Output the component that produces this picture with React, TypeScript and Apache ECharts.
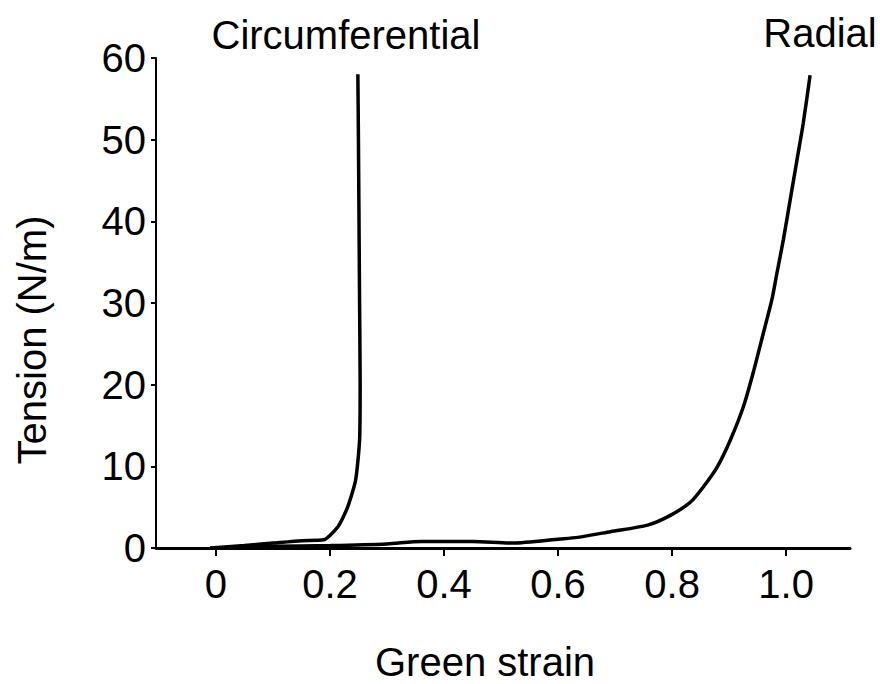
import React, { useEffect, useRef } from "react";
import * as echarts from "echarts";

const xTicks = [0, 0.2, 0.4, 0.6, 0.8, 1.0];

const circumferentialStrain = [-0.01, 0.05, 0.1, 0.15, 0.189, 0.214, 0.231, 0.245, 0.252, 0.253, 0.252, 0.251, 0.25, 0.249];
const circumferentialTension = [0, 0.3, 0.6, 0.9, 1.0, 2.6, 5.0, 8.3, 13.2, 20, 30, 40, 50, 58];

const radialStrain = [0, 0.1, 0.2, 0.3, 0.36, 0.45, 0.52, 0.604, 0.634, 0.692, 0.757, 0.797, 0.832, 0.855, 0.879, 0.902, 0.925, 0.942, 0.96, 0.975, 0.984, 0.995, 1.007, 1.019, 1.03, 1.042];
const radialTension = [0, 0.2, 0.3, 0.5, 0.8, 0.8, 0.6, 1.1, 1.3, 2.0, 2.8, 4.0, 5.6, 7.5, 9.9, 13.2, 17.3, 21.4, 26.3, 30.4, 33.7, 37.7, 42.6, 47.5, 52.0, 57.9];

const FONT = "Liberation Sans, Arial, sans-serif";
const FS = 40;

export default function App() {
  const ref = useRef<HTMLDivElement>(null);
  useEffect(() => {
    if (!ref.current) return;
    const chart = echarts.init(ref.current, null, { renderer: "svg" });
    const circ = circumferentialStrain.map((x, i) => [x, circumferentialTension[i]]);
    const rad = radialStrain.map((x, i) => [x, radialTension[i]]);
    chart.setOption({
      animation: false,
      backgroundColor: "#ffffff",
      grid: { left: 156, right: 30, top: 58, bottom: 136, containLabel: false },
      xAxis: {
        type: "value",
        min: -0.105,
        max: 1.112,
        axisLine: { show: true, onZero: false, lineStyle: { color: "#000", width: 3 } },
        axisTick: { show: true, customValues: xTicks, length: 8, lineStyle: { color: "#000", width: 2 } },
        axisLabel: {
          customValues: xTicks,
          formatter: (v: number) => (v === 0 ? "0" : v.toFixed(1)),
          color: "#000",
          fontFamily: FONT,
          fontSize: FS,
          margin: 16,
        },
        splitLine: { show: false },
      },
      yAxis: {
        type: "value",
        min: 0,
        max: 60,
        interval: 10,
        axisLine: { show: true, onZero: false, lineStyle: { color: "#000", width: 2 } },
        axisTick: { show: true, length: 5, lineStyle: { color: "#000", width: 2 } },
        axisLabel: { color: "#000", fontFamily: FONT, fontSize: FS, margin: 10 },
        splitLine: { show: false },
      },
      graphic: [
        { type: "text", x: 346, y: 35, style: { text: "Circumferential", fill: "#000", font: `${FS}px ${FONT}`, align: "center", verticalAlign: "middle" } },
        { type: "text", x: 820, y: 33, style: { text: "Radial", fill: "#000", font: `${FS}px ${FONT}`, align: "center", verticalAlign: "middle" } },
        { type: "text", x: 485, y: 662, style: { text: "Green strain", fill: "#000", font: `${FS}px ${FONT}`, align: "center", verticalAlign: "middle" } },
        { type: "text", x: 32, y: 340, rotation: Math.PI / 2, style: { text: "Tension (N/m)", fill: "#000", font: `${FS}px ${FONT}`, align: "center", verticalAlign: "middle" } },
      ],
      series: [
        { type: "line", name: "Circumferential", data: circ, showSymbol: false, smooth: 0.2, lineStyle: { color: "#000", width: 3.5 } },
        { type: "line", name: "Radial", data: rad, showSymbol: false, smooth: 0.25, lineStyle: { color: "#000", width: 3.5 } },
      ],
    });
    return () => chart.dispose();
  }, []);
  return <div ref={ref} style={{ position: "fixed", left: 0, top: 0, width: 880, height: 684 }} />;
}
